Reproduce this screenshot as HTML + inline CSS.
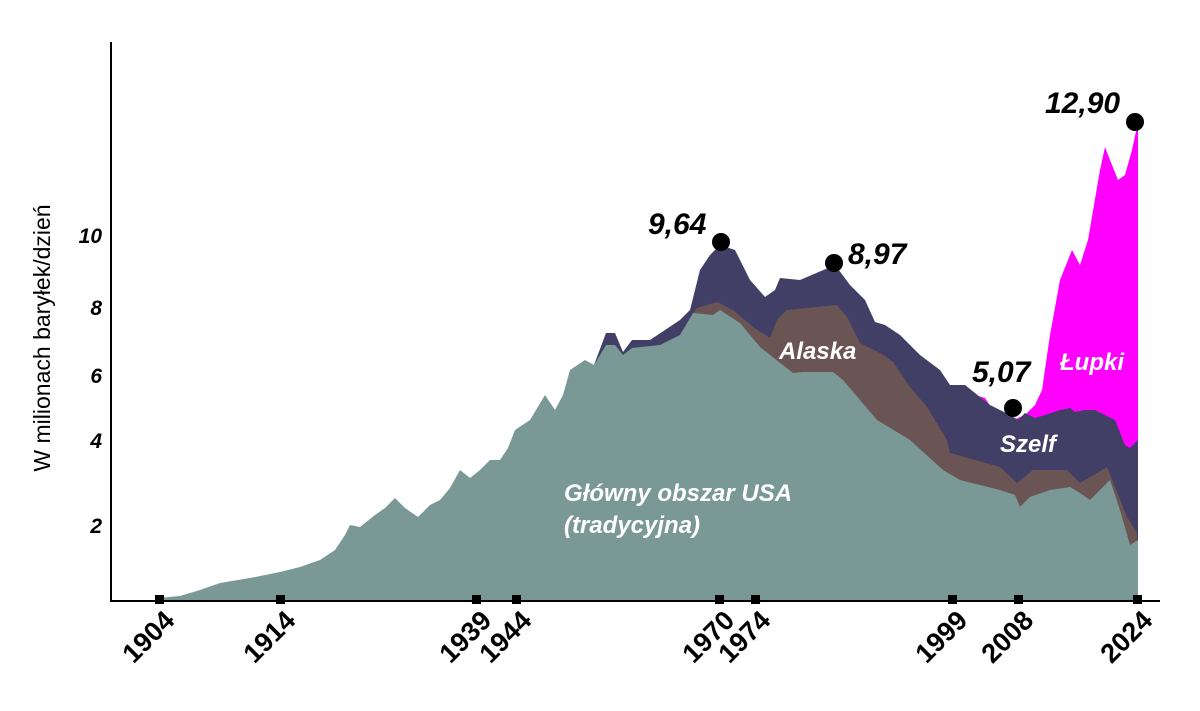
<!DOCTYPE html>
<html><head><meta charset="utf-8"><style>
html,body{margin:0;padding:0;background:#fff;}
svg{display:block;font-family:"Liberation Sans",sans-serif;}
</style></head><body>
<svg width="1200" height="711" viewBox="0 0 1200 711">
<polygon fill="#ff00ff" points="945,385 965,385 975,395 985,398 993,410 1013,420 1025,415 1035,405 1042,390 1050,335 1060,280 1072,250 1080,265 1088,240 1100,170 1105,147 1110,160 1118,180 1125,175 1132,150 1138,122 1138,601 945,601"/>
<polygon fill="#413f66" points="594,365 606,333 615,333 623,352 632,340 650,340 680,320 690,310 700,270 710,255 720,245 735,250 750,280 765,297 775,290 780,278 800,280 835,265 850,285 865,300 875,322 885,325 900,335 920,355 940,370 950,385 965,385 975,393 990,405 1010,415 1018,420 1025,413 1035,418 1045,415 1060,410 1070,408 1075,412 1085,410 1095,410 1105,415 1115,420 1125,445 1130,448 1138,440 1138,601 594,601"/>
<polygon fill="#6b5554" points="693,313 697,308 717,302 733,310 753,327 770,338 777,320 787,310 837,305 847,317 860,343 880,353 893,362 910,387 927,407 947,440 950,453 1000,467 1017,483 1033,470 1067,470 1080,483 1107,467 1127,517 1137,533 1138,601 693,601"/>
<polygon fill="#7a9895" points="159,598 180,596 200,590 220,583 250,578 280,572 300,567 320,560 335,550 345,535 350,525 360,527 375,515 385,508 395,498 405,508 418,517 430,505 440,500 450,488 460,470 470,478 480,470 490,460 500,460 508,448 515,430 530,420 545,395 555,410 563,395 570,370 585,360 594,365 606,345 615,345 623,355 632,348 660,345 680,335 693,313 713,315 720,310 740,323 760,347 793,373 803,372 833,372 843,380 860,400 877,420 910,440 943,470 960,480 1000,490 1015,495 1020,507 1030,497 1050,490 1070,487 1080,493 1090,500 1110,480 1120,510 1130,545 1138,540 1138,601 159,601"/>
<line x1="111" y1="42" x2="111" y2="601" stroke="#000" stroke-width="2"/>
<line x1="110" y1="601" x2="1160" y2="601" stroke="#000" stroke-width="2"/>
<g fill="#000">
<rect x="155" y="595" width="9" height="9"/><rect x="276" y="595" width="9" height="9"/>
<rect x="472" y="595" width="9" height="9"/><rect x="512" y="595" width="9" height="9"/>
<rect x="715" y="595" width="9" height="9"/><rect x="751" y="595" width="9" height="9"/>
<rect x="948" y="595" width="9" height="9"/><rect x="1014" y="595" width="9" height="9"/>
<rect x="1133" y="595" width="9" height="9"/>
</g>
<g font-size="27" font-weight="bold" fill="#000" text-anchor="end">
<text transform="translate(176,622) rotate(-45)">1904</text>
<text transform="translate(297,622) rotate(-45)">1914</text>
<text transform="translate(493,622) rotate(-45)">1939</text>
<text transform="translate(533,622) rotate(-45)">1944</text>
<text transform="translate(736,622) rotate(-45)">1970</text>
<text transform="translate(772,622) rotate(-45)">1974</text>
<text transform="translate(969,622) rotate(-45)">1999</text>
<text transform="translate(1035,622) rotate(-45)">2008</text>
<text transform="translate(1154,622) rotate(-45)">2024</text>
</g>
<g font-size="21" font-weight="bold" font-style="italic" fill="#000" text-anchor="end">
<text x="102" y="243">10</text><text x="102" y="315">8</text>
<text x="102" y="383">6</text><text x="102" y="448">4</text>
<text x="102" y="533">2</text>
</g>
<text transform="translate(50,338) rotate(-90)" font-size="23" text-anchor="middle" fill="#000">W milionach baryłek/dzień</text>
<g fill="#000">
<circle cx="721" cy="242" r="9"/><circle cx="834" cy="263" r="9"/>
<circle cx="1013" cy="408" r="9"/><circle cx="1135" cy="122" r="9"/>
</g>
<g font-size="30" font-weight="bold" font-style="italic" fill="#000">
<text x="648" y="234">9,64</text>
<text x="848" y="264">8,97</text>
<text x="972" y="382">5,07</text>
<text x="1045" y="113">12,90</text>
</g>
<g font-size="24" font-weight="bold" font-style="italic" fill="#fff">
<text x="779" y="359">Alaska</text>
<text x="1000" y="452">Szelf</text>
<text x="1060" y="370">Łupki</text>
<text x="564" y="501">Główny obszar USA</text>
<text x="564" y="533">(tradycyjna)</text>
</g>
</svg>
</body></html>
